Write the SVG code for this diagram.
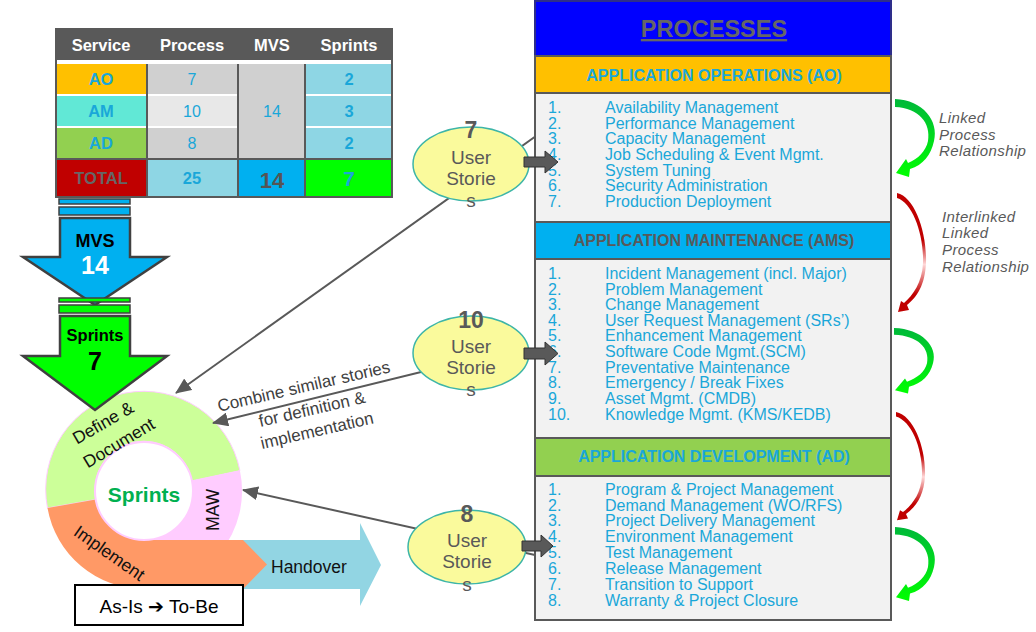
<svg xmlns="http://www.w3.org/2000/svg" width="1036" height="632" viewBox="0 0 1036 632">
<style>
text{font-family:"Liberation Sans",Arial,sans-serif}
.hd{fill:#fff;font-weight:bold;font-size:16.5px;text-anchor:middle}
.tc{fill:#1AA7D9;font-size:16px;text-anchor:middle}
.tb{fill:#1AA7D9;font-size:16.5px;font-weight:bold;text-anchor:middle}
.li{fill:#1AA7D9;font-size:16px}
.sh{font-size:16px;font-weight:bold;text-anchor:middle}
.us{fill:#595959;font-size:19px;text-anchor:middle}
.num{fill:#595959;font-size:23px;font-weight:bold;text-anchor:middle}
.ring{font-size:17.5px;fill:#111;text-anchor:middle}
.cm{font-size:17px;fill:#404040;text-anchor:middle}
.rel{font-size:15px;fill:#595959;font-style:italic;letter-spacing:0.4px}
.ell{fill:#FAFA9C;stroke:#3DB5A8;stroke-width:1.5}
.blk{fill:#595959;stroke:#333;stroke-width:1}
.box{stroke:#595959;stroke-width:2}
.con{stroke:#595959;stroke-width:2;fill:none}
.dar{stroke:#404040;stroke-width:2.5}
</style>
<defs>
<marker id="ah" markerUnits="userSpaceOnUse" markerWidth="16" markerHeight="14" refX="15" refY="7" orient="auto">
<path d="M0,0 L16,7 L0,14 Z" fill="#595959"/>
</marker>
<linearGradient id="gg" x1="0" y1="0" x2="0" y2="1">
<stop offset="0" stop-color="#00B83A"/><stop offset="1" stop-color="#00FF00"/>
</linearGradient>
<linearGradient id="rg" x1="0" y1="0" x2="0" y2="1">
<stop offset="0" stop-color="#C00000"/><stop offset="0.4" stop-color="#C00000"/><stop offset="0.6" stop-color="#FFD8D8"/><stop offset="0.85" stop-color="#C00000"/><stop offset="1" stop-color="#C00000"/>
</linearGradient>
<path id="garr" d="M2,0 C30,1 46,22 41,42 C38,56 30,66 17,70 L16,78 L3,74 L13,60 L15,64 C25,60 33,52 35,42 C38,24 26,9 2,8 Z"/>
<path id="rarr" d="M4,0 C22,4 34,40 33,70 C32,92 24,104 14,112 L16,117 L5,119 L8,108 L11,110 C20,102 29,90 30,70 C31,42 20,10 4,5 Z"/>
</defs>
<rect width="1036" height="632" fill="#fff"/>

<g id="table">
<rect x="55" y="28" width="338" height="170" fill="#595959"/>
<rect x="57" y="60" width="334" height="4" fill="#fff"/>
<rect x="57" y="64" width="334" height="94" fill="#fff"/>
<rect x="57" y="64" width="89" height="30" fill="#FFC000"/>
<rect x="57" y="96" width="89" height="30" fill="#61E8D6"/>
<rect x="57" y="128" width="89" height="30" fill="#92D050"/>
<rect x="148" y="64" width="89" height="30" fill="#D0D0D0"/>
<rect x="148" y="96" width="89" height="30" fill="#E8E8E8"/>
<rect x="148" y="128" width="89" height="30" fill="#D0D0D0"/>
<rect x="239" y="64" width="65" height="94" fill="#D0D0D0"/>
<rect x="306" y="64" width="85" height="30" fill="#8ED6E4"/>
<rect x="306" y="96" width="85" height="30" fill="#8ED6E4"/>
<rect x="306" y="128" width="85" height="30" fill="#8ED6E4"/>
<rect x="146" y="64" width="2" height="94" fill="#595959"/>
<rect x="237" y="64" width="2" height="94" fill="#595959"/>
<rect x="304" y="64" width="2" height="94" fill="#595959"/>
<rect x="57" y="160" width="89" height="36" fill="#C00000"/>
<rect x="148" y="160" width="89" height="36" fill="#8ED6E4"/>
<rect x="239" y="160" width="65" height="36" fill="#00B0F0"/>
<rect x="306" y="160" width="85" height="36" fill="#00FF00"/>
<text class="hd" x="101" y="51">Service</text>
<text class="hd" x="192" y="51">Process</text>
<text class="hd" x="272" y="51">MVS</text>
<text class="hd" x="349" y="51">Sprints</text>
<text class="tb" x="101" y="85">AO</text>
<text class="tb" x="101" y="117">AM</text>
<text class="tb" x="101" y="149">AD</text>
<text class="tc" x="192" y="85">7</text>
<text class="tc" x="192" y="117">10</text>
<text class="tc" x="192" y="149">8</text>
<text class="tc" x="272" y="117">14</text>
<text class="tb" x="349" y="85">2</text>
<text class="tb" x="349" y="117">3</text>
<text class="tb" x="349" y="149">2</text>
<text class="tb" x="101" y="184" style="fill:#666">TOTAL</text>
<text class="tb" x="192" y="184">25</text>
<text x="272" y="188" font-size="22" font-weight="bold" fill="#555" text-anchor="middle">14</text>
<text x="349" y="186" font-size="21" font-weight="bold" fill="#1AA7D9" text-anchor="middle">7</text>
</g>

<g id="mvs-arrow">
<rect x="59" y="199" width="71" height="5" fill="#00B0F0" stroke="#404040" stroke-width="1.5"/>
<rect x="59" y="207" width="71" height="8" fill="#00B0F0" stroke="#404040" stroke-width="1.5"/>
<polygon class="dar" points="60,218 130,218 130,257 167,257 95,305 23,257 60,257" fill="#00B0F0"/>
<text x="95" y="247" font-size="18" font-weight="bold" fill="#000" text-anchor="middle">MVS</text>
<text x="95" y="274" font-size="25" font-weight="bold" fill="#fff" text-anchor="middle">14</text>
</g>

<g id="handover">
<polygon points="150,540 360,540 360,523 381,565 360,606 360,589 150,589" fill="#92D5E3"/>
<text x="271" y="573" font-size="17.5" fill="#111">Handover</text>
</g>

<g id="sprint-cycle">
<path d="M47.5,508 A98,98 0 0 1 239.9,470.6 L191.9,480.8 A49,49 0 0 0 95.7,499.5 Z" fill="#CCFF99" stroke="#FFCCFF" stroke-width="1"/>
<path d="M239.9,470.6 A98,98 0 0 1 144,589 L144,540 A49,49 0 0 0 191.9,480.8 Z" fill="#FFCCFF"/>
<path d="M243,589 L144,589 A98,98 0 0 1 47.5,508 L95.7,499.5 A49,49 0 0 0 144,540 L243,540 L267,564.5 Z" fill="#FF9966"/>
<circle cx="144" cy="491" r="49" fill="#fff" stroke="#FFCCFF" stroke-width="2"/>
<text x="144" y="502" font-size="21" font-weight="bold" fill="#00B050" text-anchor="middle">Sprints</text>
<text class="ring" transform="translate(106,428) rotate(-30)">Define &amp;</text>
<text class="ring" transform="translate(122,448) rotate(-31)">Document</text>
<text class="ring" transform="translate(219,510) rotate(-90)">MAW</text>
<text class="ring" transform="translate(106,558) rotate(35)">Implement</text>
</g>

<g id="sprints-arrow">
<rect x="59" y="298" width="71" height="4" fill="#00FF00" stroke="#404040" stroke-width="1.5"/>
<rect x="59" y="305" width="71" height="8" fill="#00FF00" stroke="#404040" stroke-width="1.5"/>
<polygon class="dar" points="60,316 130,316 130,356 167,356 95,410 23,356 60,356" fill="#00FF00"/>
<text x="95" y="341" font-size="16.5" font-weight="bold" fill="#000" text-anchor="middle">Sprints</text>
<text x="95" y="370" font-size="25" font-weight="bold" fill="#000" text-anchor="middle">7</text>
</g>

<g id="asis-tobe">
<rect x="75" y="585" width="168" height="40" fill="#fff" stroke="#000" stroke-width="2"/>
<text x="159" y="613" font-size="19" fill="#000" text-anchor="middle">As-Is <tspan font-family="DejaVu Sans,sans-serif" font-weight="bold">➔</tspan> To-Be</text>
</g>

<g id="connectors">
<line class="con" x1="536" y1="136" x2="176" y2="393" marker-end="url(#ah)"/>
<line class="con" x1="470" y1="360" x2="213" y2="423" marker-end="url(#ah)"/>
<line class="con" x1="535" y1="555" x2="243" y2="490" marker-end="url(#ah)"/>
</g>

<g id="combine-label" transform="translate(305,392) rotate(-13)">
<text class="cm" x="0" y="0">Combine similar stories</text>
<text class="cm" x="3" y="24">for definition &amp;</text>
<text class="cm" x="3" y="46">implementation</text>
</g>

<g id="us7">
<ellipse class="ell" cx="471" cy="164" rx="58" ry="37"/>
<text class="num" x="471" y="138">7</text>
<text class="us" x="471" y="164">User</text>
<text class="us" x="471" y="185">Storie</text>
<text class="us" x="471" y="207" font-size="17">s</text>
</g>
<g id="us10">
<ellipse class="ell" cx="471" cy="353" rx="58" ry="37"/>
<text class="num" x="471" y="328">10</text>
<text class="us" x="471" y="353">User</text>
<text class="us" x="471" y="374">Storie</text>
<text class="us" x="471" y="396" font-size="17">s</text>
</g>
<g id="us8">
<ellipse class="ell" cx="467" cy="547" rx="59" ry="37"/>
<text class="num" x="467" y="522">8</text>
<text class="us" x="467" y="547">User</text>
<text class="us" x="467" y="568">Storie</text>
<text class="us" x="467" y="591" font-size="17">s</text>
</g>

<g id="processes-header">
<rect x="535" y="1" width="356" height="55" fill="#0000FF" stroke="#2E2E8A" stroke-width="2"/>
<text x="714" y="37" font-size="23.5" font-weight="bold" fill="#666" text-anchor="middle" text-decoration="underline">PROCESSES</text>
</g>

<g id="ao">
<rect class="box" x="535" y="56" width="356" height="37" fill="#FFC000"/>
<text class="sh" x="714" y="81" fill="#1AA7D9">APPLICATION OPERATIONS (AO)</text>
<rect class="box" x="535" y="93" width="356" height="129" fill="#F2F2F2"/>
<text class="li" x="548" y="113">1.</text><text class="li" x="605" y="113">Availability Management</text>
<text class="li" x="548" y="129">2.</text><text class="li" x="605" y="129">Performance Management</text>
<text class="li" x="548" y="144">3.</text><text class="li" x="605" y="144">Capacity Management</text>
<text class="li" x="548" y="160">4.</text><text class="li" x="605" y="160">Job Scheduling &amp; Event Mgmt.</text>
<text class="li" x="548" y="176">5.</text><text class="li" x="605" y="176">System Tuning</text>
<text class="li" x="548" y="191">6.</text><text class="li" x="605" y="191">Security Administration</text>
<text class="li" x="548" y="207">7.</text><text class="li" x="605" y="207">Production Deployment</text>
</g>

<g id="ams">
<rect class="box" x="535" y="222" width="356" height="37" fill="#00B0F0"/>
<text class="sh" x="714" y="246" fill="#595959">APPLICATION MAINTENANCE (AMS)</text>
<rect class="box" x="535" y="259" width="356" height="179" fill="#F2F2F2"/>
<text class="li" x="548" y="279">1.</text><text class="li" x="605" y="279">Incident Management (incl. Major)</text>
<text class="li" x="548" y="295">2.</text><text class="li" x="605" y="295">Problem Management</text>
<text class="li" x="548" y="310">3.</text><text class="li" x="605" y="310">Change Management</text>
<text class="li" x="548" y="326">4.</text><text class="li" x="605" y="326">User Request Management (SRs’)</text>
<text class="li" x="548" y="341">5.</text><text class="li" x="605" y="341">Enhancement Management</text>
<text class="li" x="548" y="357">6.</text><text class="li" x="605" y="357">Software Code Mgmt.(SCM)</text>
<text class="li" x="548" y="373">7.</text><text class="li" x="605" y="373">Preventative Maintenance</text>
<text class="li" x="548" y="388">8.</text><text class="li" x="605" y="388">Emergency / Break Fixes</text>
<text class="li" x="548" y="404">9.</text><text class="li" x="605" y="404">Asset Mgmt. (CMDB)</text>
<text class="li" x="548" y="420">10.</text><text class="li" x="605" y="420">Knowledge Mgmt. (KMS/KEDB)</text>
</g>

<g id="ad">
<rect class="box" x="535" y="438" width="356" height="38" fill="#92D050"/>
<text class="sh" x="714" y="462" fill="#1AA7D9">APPLICATION DEVELOPMENT (AD)</text>
<rect class="box" x="535" y="476" width="356" height="144" fill="#F2F2F2"/>
<text class="li" x="548" y="495">1.</text><text class="li" x="605" y="495">Program &amp; Project Management</text>
<text class="li" x="548" y="511">2.</text><text class="li" x="605" y="511">Demand Management (WO/RFS)</text>
<text class="li" x="548" y="526">3.</text><text class="li" x="605" y="526">Project Delivery Management</text>
<text class="li" x="548" y="542">4.</text><text class="li" x="605" y="542">Environment Management</text>
<text class="li" x="548" y="558">5.</text><text class="li" x="605" y="558">Test Management</text>
<text class="li" x="548" y="574">6.</text><text class="li" x="605" y="574">Release Management</text>
<text class="li" x="548" y="590">7.</text><text class="li" x="605" y="590">Transition to Support</text>
<text class="li" x="548" y="606">8.</text><text class="li" x="605" y="606">Warranty &amp; Project Closure</text>
</g>

<g id="block-arrows">
<polygon class="blk" points="524,157 545,157 545,151 558,162 545,173 545,167 524,167"/>
<polygon class="blk" points="524,348 545,348 545,342 558,353.5 545,365 545,359 524,359"/>
<polygon class="blk" points="522,541 541,541 541,535 553,546 541,557 541,551 522,551"/>
</g>

<g id="relationships">
<use href="#garr" fill="url(#gg)" transform="translate(893,99)"/>
<use href="#rarr" fill="url(#rg)" transform="translate(893,193)"/>
<use href="#garr" fill="url(#gg)" transform="translate(892,328) scale(1,0.84)"/>
<use href="#rarr" fill="url(#rg)" transform="translate(892,412) scale(1,0.91)"/>
<use href="#garr" fill="url(#gg)" transform="translate(893,527) scale(1,0.95)"/>
<text class="rel" x="939" y="123">Linked</text>
<text class="rel" x="939" y="140">Process</text>
<text class="rel" x="939" y="156">Relationship</text>
<text class="rel" x="942" y="222">Interlinked</text>
<text class="rel" x="942" y="238">Linked</text>
<text class="rel" x="942" y="255">Process</text>
<text class="rel" x="942" y="272">Relationship</text>
</g>
</svg>
